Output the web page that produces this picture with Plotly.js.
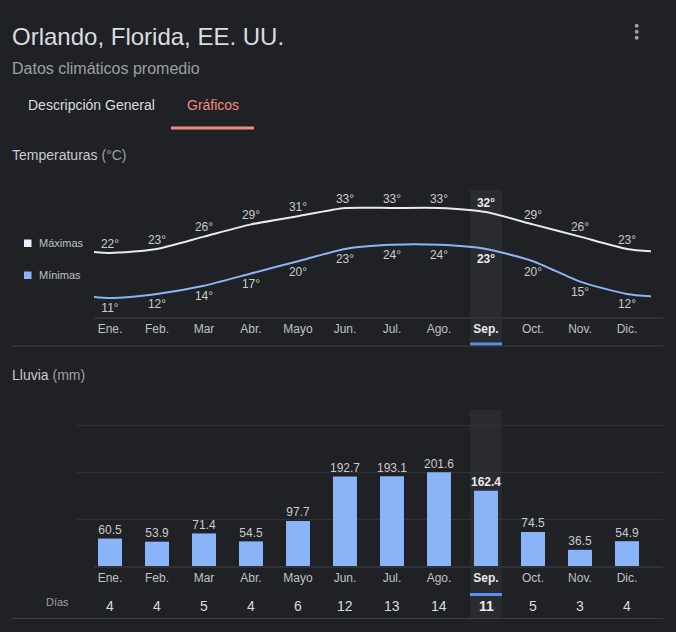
<!DOCTYPE html>
<html><head><meta charset="utf-8">
<script src="https://cdn.plot.ly/plotly-3.0.1.min.js"></script>
<style>html,body{margin:0;padding:0;background:#202124;}#chart{width:676px;height:632px;}</style>
</head><body><div id="chart"></div>
<script>
// ---- data ----
const months = ['Ene.','Feb.','Mar','Abr.','Mayo','Jun.','Jul.','Ago.','Sep.','Oct.','Nov.','Dic.'];
const tempMax = [22,23,26,29,31,33,33,33,32,29,26,23];
const tempMin = [11,12,14,17,20,23,24,24,23,20,15,12];
const rain = [60.5,53.9,71.4,54.5,97.7,192.7,193.1,201.6,162.4,74.5,36.5,54.9];
const rainDays = [4,4,5,4,6,12,13,14,11,5,3,4];
const selected = 8;

// ---- helpers ----
const W = 676, H = 632;
const px = x => x / W, py = y => 1 - y / H;
const FONT = 'Liberation Sans, Arial, sans-serif';
const BG = '#202124';
const idx = months.map((m, i) => i);
// cyclic: previous December and next January continue the lines past the edges
const extX = [-1, ...idx, 12];
const ext = arr => [arr[11], ...arr, arr[0]];
const extLabels = arr => ['', ...arr.map((v, i) => i === selected ? `<b>${v}°</b>` : `${v}°`), ''];
const extColors = (c, s) => [c, ...idx.map(i => i === selected ? s : c), c];
const tickText = months.map((m, i) => i === selected ? `<span style="color:#e8eaed"><b>${m}</b></span>` : m);

const traces = [
  {
    x: extX, y: ext(tempMax), xaxis: 'x', yaxis: 'y',
    mode: 'lines+markers+text', hoverinfo: 'skip',
    line: {color: '#e8eaed', width: 2, shape: 'spline', smoothing: 0.6},
    marker: {size: 2, opacity: 0},
    text: extLabels(tempMax), textposition: 'top center',
    textfont: {family: FONT, size: 12, color: extColors('#c8cbd0', '#e8eaed')}
  },
  {
    x: extX, y: ext(tempMin), xaxis: 'x', yaxis: 'y',
    mode: 'lines+markers+text', hoverinfo: 'skip',
    line: {color: '#8ab4f8', width: 2, shape: 'spline', smoothing: 0.6},
    marker: {size: 7, opacity: 0},
    text: extLabels(tempMin), textposition: 'bottom center',
    textfont: {family: FONT, size: 12, color: extColors('#c8cbd0', '#e8eaed')}
  },
  {
    type: 'bar', x: idx, y: rain, xaxis: 'x2', yaxis: 'y2',
    width: 0.51, hoverinfo: 'skip',
    marker: {color: '#8ab4f8', line: {width: 0}}
  },
  {
    // rain value labels above the bars
    type: 'scatter', mode: 'markers+text', x: idx, y: rain, xaxis: 'x2', yaxis: 'y2',
    hoverinfo: 'skip', cliponaxis: false,
    marker: {size: 1, opacity: 0},
    text: rain.map((v, i) => i === selected ? `<b>${v.toFixed(1)}</b>` : v.toFixed(1)),
    textposition: 'top center',
    textfont: {family: FONT, size: 12, color: idx.map(i => i === selected ? '#e8eaed' : '#c8cbd0')}
  }
];

const annotations = [
  {text: 'Orlando, Florida, EE. UU.', x: px(10), y: py(37), font: {size: 24, color: '#dadce0'}},
  {text: 'Datos climáticos promedio', x: px(10), y: py(68), font: {size: 16, color: '#9aa0a6'}},
  {text: 'Descripción General', x: px(26), y: py(105), font: {size: 14, color: '#dadce0'}},
  {text: 'Gráficos', x: px(185), y: py(105), font: {size: 14, color: '#f28b82'}},
  {text: 'Temperaturas <span style="color:#9aa0a6">(°C)</span>', x: px(10), y: py(155), font: {size: 14, color: '#c8cbd0'}},
  {text: 'Lluvia <span style="color:#9aa0a6">(mm)</span>', x: px(10), y: py(375), font: {size: 14, color: '#c8cbd0'}},
  {text: 'Máximas', x: px(37), y: py(243), font: {size: 11, color: '#bdc1c6'}},
  {text: 'Mínimas', x: px(37), y: py(275), font: {size: 11, color: '#bdc1c6'}},
  {text: 'Días', x: px(58), y: py(602), xanchor: 'center', font: {size: 11, color: '#9aa0a6'}}
].map(a => Object.assign({xref: 'paper', yref: 'paper', xanchor: 'left', yanchor: 'middle', showarrow: false}, a, {font: Object.assign({family: FONT}, a.font)}));

rainDays.forEach((d, i) => annotations.push({
  xref: 'x2', yref: 'paper', x: i, y: py(606), xanchor: 'center', yanchor: 'middle', showarrow: false,
  text: i === selected ? `<b>${d}</b>` : String(d),
  font: {family: FONT, size: 14, color: i === selected ? '#e8eaed' : '#dadce0'}
}));

const hw = 0.34;
const shapes = [
  // selected-month highlight columns
  {type: 'rect', layer: 'below', xref: 'x', yref: 'paper', x0: selected - hw, x1: selected + hw, y0: py(345), y1: py(190), fillcolor: '#2a2b2e', line: {width: 0}},
  {type: 'rect', layer: 'below', xref: 'x2', yref: 'paper', x0: selected - hw, x1: selected + hw, y0: py(618), y1: py(410), fillcolor: '#2a2b2e', line: {width: 0}},
  // blue underlines
  {type: 'rect', xref: 'x', yref: 'paper', x0: selected - hw, x1: selected + hw, y0: py(345.5), y1: py(342.5), fillcolor: '#5591f3', line: {width: 0}},
  {type: 'rect', xref: 'x2', yref: 'paper', x0: selected - hw, x1: selected + hw, y0: py(596), y1: py(593), fillcolor: '#5591f3', line: {width: 0}},
  // baselines
  {type: 'line', xref: 'paper', yref: 'y domain', x0: px(94), x1: px(663), y0: 0, y1: 0, line: {color: '#303134', width: 2}},
  {type: 'line', xref: 'paper', yref: 'y2 domain', x0: px(94), x1: px(663), y0: 0, y1: 0, line: {color: '#303134', width: 2}},
  // separators
  {type: 'line', xref: 'paper', yref: 'paper', x0: px(12), x1: px(663), y0: py(346), y1: py(346), line: {color: '#3c4043', width: 1}},
  {type: 'line', xref: 'paper', yref: 'paper', x0: px(12), x1: px(663), y0: py(618.5), y1: py(618.5), line: {color: '#3c4043', width: 1}},
  // tab underline
  {type: 'rect', xref: 'paper', yref: 'paper', x0: px(171), x1: px(254), y0: py(129.5), y1: py(126.5), fillcolor: '#f28b82', line: {width: 0}},
  // legend squares
  {type: 'rect', xref: 'paper', yref: 'paper', x0: px(24), x1: px(31.5), y0: py(247), y1: py(239.5), fillcolor: '#e8f0fe', line: {width: 0}},
  {type: 'rect', xref: 'paper', yref: 'paper', x0: px(24), x1: px(31.5), y0: py(279), y1: py(271.5), fillcolor: '#8ab4f8', line: {width: 0}}
];
// overflow menu dots
[25.7, 31.7, 37.7].forEach(cy => shapes.push({type: 'circle', xref: 'paper', yref: 'paper',
  x0: px(634.7), x1: px(638.7), y0: py(cy + 2), y1: py(cy - 2), fillcolor: '#9aa0a6', line: {width: 0}}));

const xBase = {
  tickmode: 'array', tickvals: idx, ticktext: tickText, ticks: '', ticklabelstandoff: 2,
  tickfont: {family: FONT, size: 12, color: '#bdc1c6'},
  showgrid: false, zeroline: false, showline: false, fixedrange: true
};

const layout = {
  width: W, height: H, autosize: false,
  margin: {l: 0, r: 0, t: 0, b: 0, pad: 0},
  paper_bgcolor: BG, plot_bgcolor: 'rgba(0,0,0,0)',
  showlegend: false,
  font: {family: FONT, color: '#bdc1c6'},
  xaxis: Object.assign({}, xBase, {domain: [px(94), px(651)], range: [-0.34, 11.51], anchor: 'y'}),
  yaxis: {domain: [py(318), py(190)], range: [6.11, 37.4], visible: false, fixedrange: true, anchor: 'x'},
  xaxis2: Object.assign({}, xBase, {domain: [px(77), px(663)], range: [-0.702, 11.766], anchor: 'y2'}),
  yaxis2: {domain: [py(567), py(410)], range: [0, 334], tickmode: 'array', tickvals: [100, 200, 300],
    showticklabels: false, ticks: '', showgrid: true, gridcolor: '#303134', gridwidth: 1,
    zeroline: false, showline: false, fixedrange: true, anchor: 'x2'},
  annotations: annotations,
  shapes: shapes
};

Plotly.newPlot('chart', traces, layout, {staticPlot: true, displayModeBar: false});
</script></body></html>
